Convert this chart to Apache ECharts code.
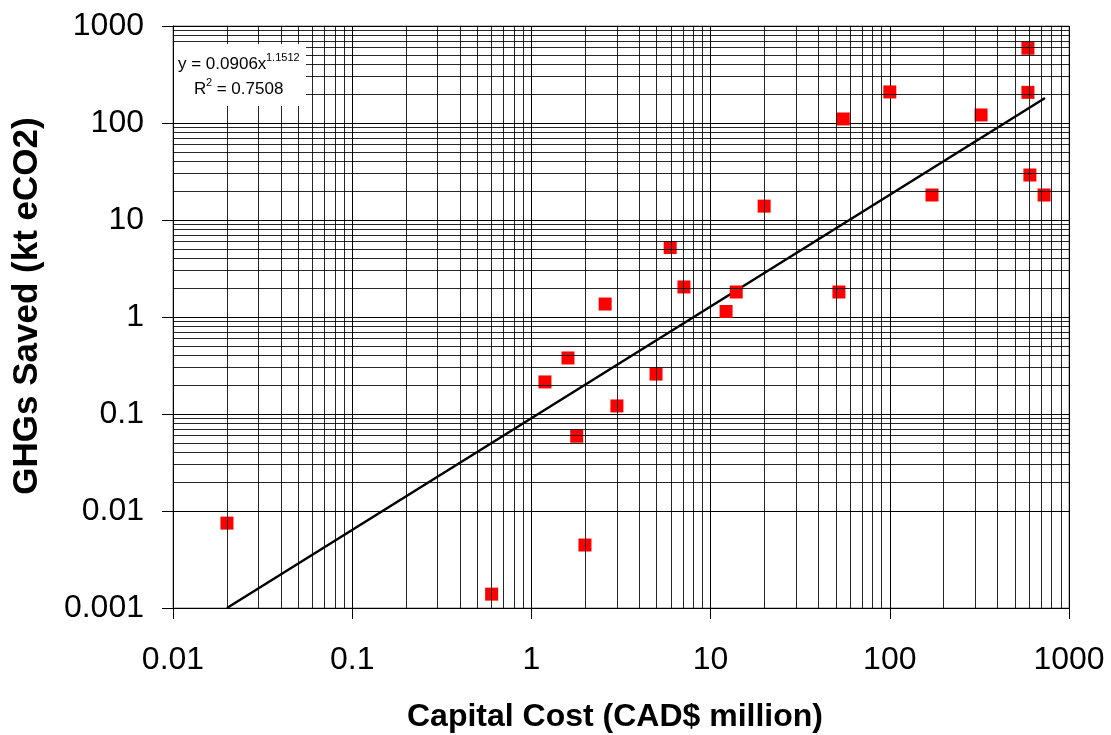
<!DOCTYPE html>
<html>
<head>
<meta charset="utf-8">
<script src="https://cdn.jsdelivr.net/npm/echarts@6/dist/echarts.min.js"></script>
<style>
html,body{margin:0;padding:0;background:#fff;}
#chart{width:1111px;height:735px;}
</style>
</head>
<body>
<div id="chart"></div>
<script>
// Data
const capitalCost = [0.02, 0.60, 1.19, 1.60, 1.79, 1.99, 2.58, 3.0, 4.96, 5.95, 7.1, 12.2, 13.9, 19.9, 52, 55, 100, 172, 323, 590, 590, 605, 726];
const ghgSaved    = [0.0075, 0.00139, 0.214, 0.378, 0.059, 0.00446, 1.36, 0.121, 0.258, 5.2, 2.04, 1.14, 1.81, 13.9, 1.81, 110, 209, 18.1, 121, 590, 207, 29.1, 18.1];
// Power-law trend line y = 0.0906x^1.1512, end points
const trendLine = [[0.02, 0.001], [735, 181]];
const xTicks = [0.01, 0.1, 1, 10, 100, 1000];
const yTicks = [0.001, 0.01, 0.1, 1, 10, 100, 1000];
const equationText = 'y = 0.0906x';
const equationExp = '1.1512';
const r2Text = ' = 0.7508';

const FONT = "'Liberation Sans', Arial, sans-serif";
const points = capitalCost.map((x, i) => [x, ghgSaved[i]]);

function minorValues(ticks) {
  const out = [];
  for (let k = 0; k < ticks.length - 1; k++) {
    for (let m = 2; m <= 9; m++) out.push(+(ticks[k] * m).toPrecision(6));
  }
  return out;
}
const fmt = v => String(+Number(v).toPrecision(6));

const minorX = minorValues(xTicks).map(v => ({ xAxis: v }));
const minorY = minorValues(yTicks).map(v => ({ yAxis: v }));

const chart = echarts.init(document.getElementById('chart'), null, { renderer: 'canvas' });
chart.setOption({
  animation: false,
  backgroundColor: '#fff',
  grid: { left: 173, right: 42, top: 26, bottom: 127, outerBoundsMode: 'none', containLabel: false, show: true, borderColor: '#808080', borderWidth: 1, backgroundColor: 'transparent' },
  xAxis: {
    type: 'log', logBase: 10, min: 0.01, max: 1000,
    name: 'Capital Cost (CAD$ million)', nameLocation: 'middle', nameGap: 93,
    nameTextStyle: { fontFamily: FONT, fontSize: 32, fontWeight: 'bold', color: '#000', padding: [0, 12, 0, 0] },
    axisLine: { lineStyle: { color: '#000', width: 1 } },
    axisTick: { show: true, inside: false, length: 11, lineStyle: { color: '#000' } },
    axisLabel: { fontFamily: FONT, fontSize: 32, color: '#000', margin: 36, formatter: fmt },
    splitLine: { show: true, lineStyle: { color: '#000', width: 1 } },
    minorTick: { show: false }, minorSplitLine: { show: false }
  },
  yAxis: {
    type: 'log', logBase: 10, min: 0.001, max: 1000,
    name: 'GHGs Saved (kt eCO2)', nameLocation: 'middle', nameGap: 128, nameRotate: 90,
    nameTextStyle: { fontFamily: FONT, fontSize: 35, fontWeight: 'bold', color: '#000', padding: [0, 0, 0, 22] },
    axisLine: { lineStyle: { color: '#000', width: 1 } },
    axisTick: { show: true, inside: false, length: 11, lineStyle: { color: '#000' } },
    axisLabel: { fontFamily: FONT, fontSize: 32, color: '#000', margin: 29, formatter: fmt },
    splitLine: { show: true, lineStyle: { color: '#000', width: 1 } },
    minorTick: { show: false }, minorSplitLine: { show: false }
  },
  series: [
    {
      type: 'line', name: 'grid', data: [], silent: true,
      markLine: {
        silent: true, symbol: ['none', 'none'], animation: false,
        label: { show: false },
        lineStyle: { color: '#000', width: 1, type: 'solid', opacity: 0.85 },
        emphasis: { disabled: true },
        data: minorX.concat(minorY)
      }
    },
    {
      type: 'line', name: 'trend', data: trendLine, showSymbol: false, symbol: 'none',
      lineStyle: { color: '#000', width: 2.5 }, z: 3, silent: true
    },
    {
      type: 'scatter', name: 'projects', data: points, symbol: 'rect', symbolSize: 13,
      itemStyle: { color: '#ff0000', opacity: 1 }, z: 4
    }
  ],
  graphic: [
    { type: 'rect', left: 174, top: 44, shape: { width: 132, height: 62 }, style: { fill: '#fff' }, z: 100 },
    { type: 'text', left: 178, top: 56, z: 101, style: { text: equationText, font: "17px 'Liberation Sans', Arial, sans-serif", fill: '#000' } },
    { type: 'text', left: 266, top: 52, z: 101, style: { text: equationExp, font: "11px 'Liberation Sans', Arial, sans-serif", fill: '#000' } },
    { type: 'text', left: 194, top: 81, z: 101, style: { text: 'R', font: "17px 'Liberation Sans', Arial, sans-serif", fill: '#000' } },
    { type: 'text', left: 206, top: 77, z: 101, style: { text: '2', font: "11px 'Liberation Sans', Arial, sans-serif", fill: '#000' } },
    { type: 'text', left: 212, top: 81, z: 101, style: { text: r2Text, font: "17px 'Liberation Sans', Arial, sans-serif", fill: '#000' } }
  ]
});
</script>
</body>
</html>
